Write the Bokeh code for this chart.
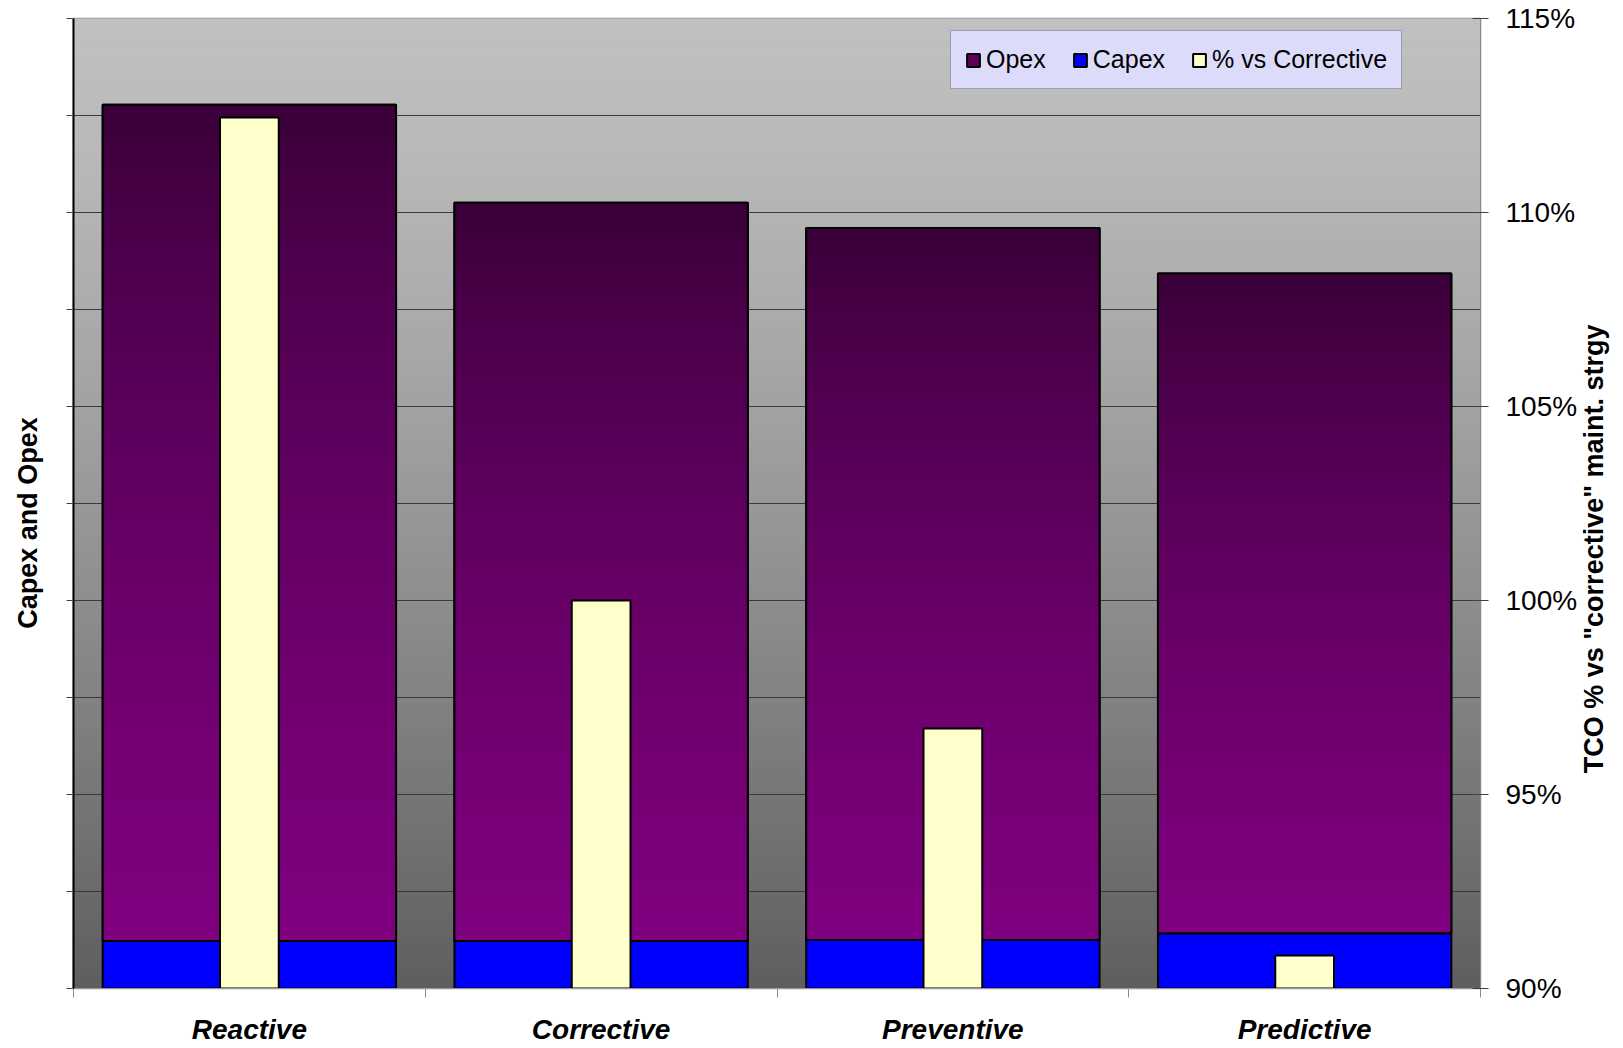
import math
import numpy as np
from bokeh.plotting import figure
from bokeh.layouts import row
from bokeh.models import (Range1d, LinearAxis, FixedTicker, SingleIntervalTicker,
                          PrintfTickFormatter, CustomJSTickFormatter, Legend, LegendItem)
from bokeh.core.properties import value
from bokeh.embed import file_html
from bokeh.resources import INLINE

# ---------------- data ----------------
categories = ["Reactive", "Corrective", "Preventive", "Predictive"]
capex = [0.49, 0.49, 0.50, 0.57]
opex = [8.62, 7.61, 7.34, 6.80]
pct_vs_corrective = [112.45, 100.0, 96.7, 90.85]
pct_ticks = [90, 95, 100, 105, 110, 115]
legend_labels = ["Opex", "Capex", "% vs Corrective"]
left_title = "Capex and Opex"
right_title = 'TCO % vs "corrective" maint. strgy'

FONT = "Liberation Sans"
W_TOTAL, H_TOTAL = 1623, 1048
W_LEFT = 50     # strip holding the left axis title
W_RIGHT = 43    # strip holding the right axis title

n = len(categories)
centers = [i + 0.5 for i in range(n)]
bounds = [float(i) for i in range(n + 1)]
totals = [c + o for c, o in zip(capex, opex)]

p = figure(width=W_TOTAL - W_LEFT - W_RIGHT, height=H_TOTAL, output_backend="svg",
           toolbar_location=None, x_range=Range1d(0, n), y_range=Range1d(0, 10),
           min_border_left=73 - W_LEFT, min_border_right=98, min_border_top=18,
           min_border_bottom=60)
p.extra_y_ranges = {"pct": Range1d(pct_ticks[0], pct_ticks[-1])}
p.background_fill_color = "#c0c0c0"
p.border_fill_color = "white"
p.outline_line_color = "#8a8a8a"
p.outline_line_width = 1.5


def hexc(r, g, b):
    return "#%02x%02x%02x" % (int(round(r)), int(round(g)), int(round(b)))


# background gradient (light grey at top -> dark grey at bottom)
nbg = 150
yr0, yr1 = p.y_range.start, p.y_range.end
ys = np.linspace(yr0, yr1, nbg + 1)
bg_cols = []
for k in range(nbg):
    t = 1 - ((ys[k] + ys[k + 1]) / 2 - yr0) / (yr1 - yr0)  # 0 top, 1 bottom
    g = 192 - 98 * t ** 1.3
    bg_cols.append(hexc(g, g, g))
p.quad(left=p.x_range.start, right=p.x_range.end, bottom=ys[:-1], top=ys[1:],
       fill_color=bg_cols, line_color=bg_cols, line_width=1, level="image")

# grid
yticker = SingleIntervalTicker(interval=1)
p.ygrid[0].ticker = yticker
p.ygrid.grid_line_color = "#3a3a3a"
p.ygrid.grid_line_width = 1
p.xgrid.visible = False

BAR_W = 0.834
PCT_W = 0.167

# capex
r_capex = p.vbar(x=centers, width=BAR_W, bottom=0, top=capex, fill_color="#0000ff",
                 line_color="black", line_width=2)

# opex: flat bar (legend swatch), then gradient slices on top of it
r_opex = p.vbar(x=centers, width=BAR_W, bottom=capex, top=totals, fill_color="#5c0058",
                line_color="black", line_width=2)

top_c = (58, 0, 56)
bot_c = (128, 0, 128)


def to_lin(v):
    v = v / 255
    return v / 12.92 if v <= 0.04045 else ((v + 0.055) / 1.055) ** 2.4


def to_srgb(v):
    v = 12.92 * v if v <= 0.0031308 else 1.055 * v ** (1 / 2.4) - 0.055
    return max(0, min(255, v * 255))


nsl = 120
L, R, B, T, C = [], [], [], [], []
for i in range(n):
    for k in range(nsl):
        y0 = capex[i] + opex[i] * k / nsl
        y1 = capex[i] + opex[i] * (k + 1) / nsl
        f = (k + 0.5) / nsl  # 0 bottom, 1 top
        col = [to_srgb(to_lin(b) + (to_lin(t) - to_lin(b)) * f) for b, t in zip(bot_c, top_c)]
        L.append(centers[i] - BAR_W / 2)
        R.append(centers[i] + BAR_W / 2)
        B.append(y0)
        T.append(y1)
        C.append(hexc(*col))
p.quad(left=L, right=R, bottom=B, top=T, fill_color=C, line_color=C, line_width=1)
p.vbar(x=centers, width=BAR_W, bottom=capex, top=totals, fill_color=None,
       line_color="black", line_width=2)

# % vs corrective
r_pct = p.vbar(x=centers, width=PCT_W, bottom=pct_ticks[0], top=pct_vs_corrective,
               y_range_name="pct", fill_color="#ffffcc", line_color="black", line_width=2)

# axes
xa = p.xaxis[0]
xa.ticker = FixedTicker(ticks=centers, minor_ticks=bounds)
xa.major_label_overrides = {c: name for c, name in zip(centers, categories)}
xa.major_tick_out = 0
xa.major_tick_in = 0
xa.minor_tick_out = 9
xa.minor_tick_in = 0
xa.minor_tick_line_color = "#8a8a8a"
xa.axis_line_color = "#9a9a9a"
xa.major_label_text_font = FONT
xa.major_label_text_font_style = "bold italic"
xa.major_label_text_font_size = "28px"
xa.major_label_text_color = "black"
xa.major_label_standoff = 16

ya = p.yaxis[0]
ya.ticker = yticker
ya.formatter = CustomJSTickFormatter(code="return ''")
ya.major_tick_out = 7
ya.major_tick_in = 0
ya.minor_tick_out = 0
ya.minor_tick_in = 0
ya.major_label_standoff = 0
ya.major_tick_line_color = "#404040"
ya.axis_line_color = "black"
ya.axis_line_width = 2

ra = LinearAxis(y_range_name="pct", ticker=FixedTicker(ticks=pct_ticks),
                formatter=PrintfTickFormatter(format="%d%%"))
ra.major_tick_in = 8
ra.major_tick_out = 8
ra.minor_tick_in = 0
ra.minor_tick_out = 0
ra.major_tick_line_color = "#404040"
ra.axis_line_color = "#8a8a8a"
ra.major_label_text_font = FONT
ra.major_label_text_font_size = "28px"
ra.major_label_text_color = "black"
ra.major_label_standoff = 17
p.add_layout(ra, "right")

# legend
legend = Legend(items=[LegendItem(label=lab, renderers=[r])
                       for lab, r in zip(legend_labels, [r_opex, r_capex, r_pct])],
                orientation="horizontal", location=(877, 899), margin=0, padding=14,
                spacing=26, glyph_width=16, glyph_height=16, label_standoff=5,
                label_text_font=FONT, label_text_font_size="25px", label_text_color="black",
                background_fill_color="#dcdcfa", background_fill_alpha=1,
                border_line_color="#5c5c7a", border_line_width=1)
p.add_layout(legend, "center")


def title_strip(width, text, x, y_from_top):
    """Narrow figure (pixel coordinates) holding one rotated axis title."""
    s = figure(width=width, height=H_TOTAL, output_backend="svg", toolbar_location=None,
               x_range=Range1d(0, width), y_range=Range1d(0, H_TOTAL),
               x_axis_location=None, y_axis_location=None,
               min_border_left=0, min_border_right=0, min_border_top=0, min_border_bottom=0)
    s.grid.visible = False
    s.outline_line_color = None
    s.background_fill_color = "white"
    s.border_fill_color = "white"
    s.text(x=[x], y=[H_TOTAL - y_from_top], text=[text], angle=math.pi / 2,
           text_align="center", text_baseline="middle", text_font=value(FONT),
           text_font_style="bold", text_font_size="27px", text_color="black")
    return s


pl = title_strip(W_LEFT, left_title, 27, 545)
pr = title_strip(W_RIGHT, right_title, 13, 573)

layout = row(pl, p, pr, spacing=0)
open("out.html", "w").write(file_html(layout, INLINE))
